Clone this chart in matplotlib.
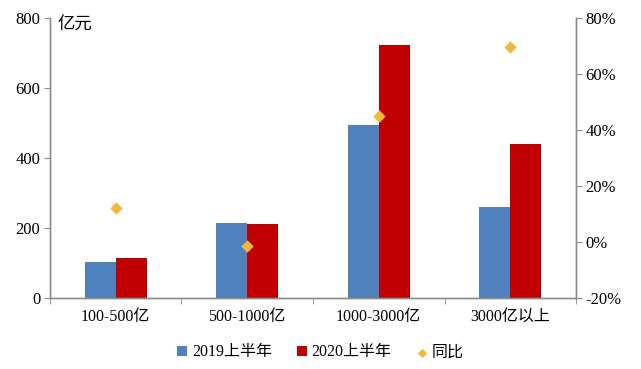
import numpy as np
import matplotlib.pyplot as plt
from matplotlib.ticker import FuncFormatter, FixedLocator

plt.rcParams['font.family'] = ['Liberation Serif', 'Noto Sans CJK SC', 'DejaVu Sans']

categories = ["100-500亿", "500-1000亿", "1000-3000亿", "3000亿以上"]
h1_2019 = [102, 214, 496, 259]
h1_2020 = [116, 211, 723, 441]
yoy = [12.2, -1.3, 45.0, 69.6]

blue = "#4F81BD"
red = "#C00000"
gold = "#F4B93A"
grey = "#8C8C8C"

fig = plt.figure(figsize=(6.41, 3.69), dpi=100)
ax = fig.add_axes([0.078, 0.192, 0.8206, 0.759])
ax2 = ax.twinx()

x = np.arange(len(categories))
w = 0.236
ax.bar(x - w / 2, h1_2019, width=w, color=blue, label="2019上半年", zorder=2)
ax.bar(x + w / 2, h1_2020, width=w, color=red, label="2020上半年", zorder=2)
ax2.scatter(x, yoy, marker="D", s=40, color=gold, label="同比", zorder=3, linewidths=0)

ax.set_xlim(-0.5, len(categories) - 0.5)
ax.set_ylim(0, 800)
ax.set_yticks(range(0, 801, 200))
ax2.set_ylim(-20, 80)
ax2.set_yticks(range(-20, 81, 20))
ax2.yaxis.set_major_formatter(FuncFormatter(lambda v, p: f"{v:.0f}%"))

ax.set_xticks(x)
ax.set_xticklabels(categories)
ax.xaxis.set_minor_locator(FixedLocator(np.arange(-0.5, len(categories), 1.0)))
ax.tick_params(axis="x", which="major", length=0, pad=8, labelsize=11.5)
ax.tick_params(axis="x", which="minor", length=4, color=grey)
ax.tick_params(axis="y", length=4, color=grey, labelsize=12, pad=3)
ax2.tick_params(axis="y", length=4, color=grey, labelsize=12, pad=3)

for a in (ax, ax2):
    a.spines["top"].set_visible(False)
    for s in ("left", "right", "bottom"):
        a.spines[s].set_color(grey)
        a.spines[s].set_linewidth(1.0)

ax.text(0.014, 1.0, "亿元", transform=ax.transAxes, ha="left", va="top", fontsize=12.5)

h1, l1 = ax.get_legend_handles_labels()
h2, l2 = ax2.get_legend_handles_labels()
fig.legend(h1 + h2, l1 + l2, loc="center", bbox_to_anchor=(0.5, 0.045), ncol=3,
           frameon=False, fontsize=11.5, handlelength=0.6, handleheight=0.6,
           handletextpad=0.3, columnspacing=1.6, markerscale=0.75)

fig.savefig("out.png", dpi=100)
